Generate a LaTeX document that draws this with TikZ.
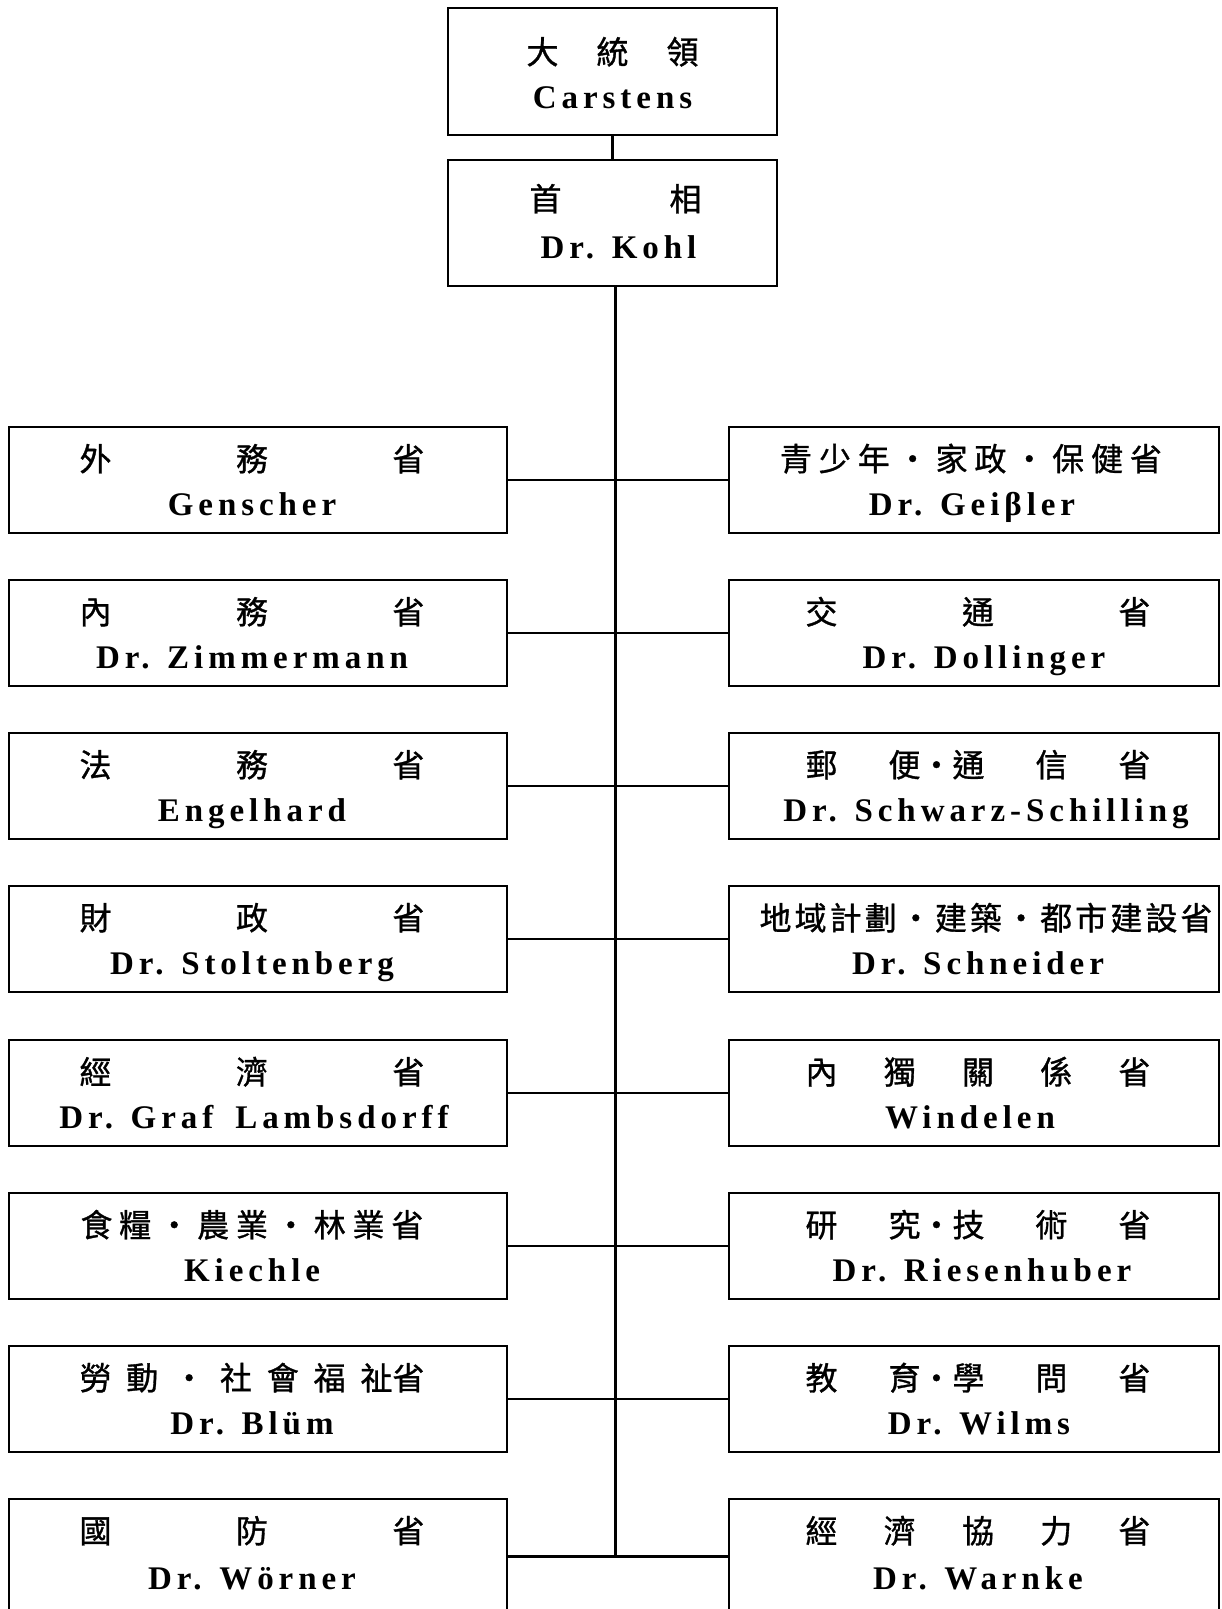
\documentclass[tikz,border=0pt]{standalone}
\usepackage{fontspec}
\setmainfont{Liberation Serif}
\newfontfamily\cjkfont[FakeBold=1]{Noto Sans CJK TC}
\newfontfamily\latfont[LetterSpace=15]{Liberation Serif}
\tikzset{
  x=1pt, y=-1pt,
  box/.style={draw, line width=2.6pt, rectangle, inner sep=0pt},
  lbox/.style={box, minimum width=498pt, minimum height=106pt},
  rbox/.style={box, minimum width=490pt, minimum height=106pt},
  cj/.style={inner sep=0pt, font=\cjkfont\fontsize{32}{36}\selectfont},
  nm/.style={inner sep=0pt, anchor=base, font=\latfont\bfseries\fontsize{33}{40}\selectfont},
  link/.style={line width=2.6pt}
}
\newcommand\spr[2]{\makebox[#1pt]{#2}}
\begin{document}
\begin{tikzpicture}
\useasboundingbox (0,0) rectangle (1222,1609);
\clip (0,0) rectangle (1222,1609);
% top
\node[box, minimum width=329pt, minimum height=127pt] (P) at (612.5,71.5) {};
\node[cj] (Pc) at ([yshift=-45pt]P.north) {\spr{172}{大\hfill 統\hfill 領}};
\node[nm] (Pn) at ([yshift=-102pt]P.north) {Carstens};
\node[box, minimum width=329pt, minimum height=126pt] (K) at (612.5,223) {};
\node[cj] (Kc) at ([xshift=3pt,yshift=-40pt]K.north) {\spr{172}{首\hfill 相}};
\node[nm] (Kn) at ([xshift=6pt,yshift=-100pt]K.north) {Dr. Kohl};
% left column
\node[lbox] (L1) at (258,480) {};
\node[cj] (L1c) at ([xshift=-6pt,yshift=-33pt]L1.north) {\spr{345}{外\hfill 務\hfill 省}};
\node[nm] (L1n) at ([xshift=-6pt,yshift=-90pt]L1.north) {Genscher};
\node[lbox] (L2) at (258,633) {};
\node[cj] (L2c) at ([xshift=-6pt,yshift=-33pt]L2.north) {\spr{345}{內\hfill 務\hfill 省}};
\node[nm] (L2n) at ([xshift=-6pt,yshift=-90pt]L2.north) {Dr. Zimmermann};
\node[lbox] (L3) at (258,786) {};
\node[cj] (L3c) at ([xshift=-6pt,yshift=-33pt]L3.north) {\spr{345}{法\hfill 務\hfill 省}};
\node[nm] (L3n) at ([xshift=-6pt,yshift=-90pt]L3.north) {Engelhard};
\node[lbox] (L4) at (258,939) {};
\node[cj] (L4c) at ([xshift=-6pt,yshift=-33pt]L4.north) {\spr{345}{財\hfill 政\hfill 省}};
\node[nm] (L4n) at ([xshift=-6pt,yshift=-90pt]L4.north) {Dr. Stoltenberg};
\node[lbox] (L5) at (258,1093) {};
\node[cj] (L5c) at ([xshift=-6pt,yshift=-33pt]L5.north) {\spr{345}{經\hfill 濟\hfill 省}};
\node[nm] (L5n) at ([xshift=-4pt,yshift=-90pt]L5.north) {Dr. Graf\hspace{22pt}Lambsdorff};
\node[lbox] (L6) at (258,1246) {};
\node[cj] (L6c) at ([xshift=-6pt,yshift=-33pt]L6.north) {\spr{343}{食\hfill 糧\hfill ・\hfill 農\hfill 業\hfill ・\hfill 林\hfill 業\hfill 省}};
\node[nm] (L6n) at ([xshift=-6pt,yshift=-90pt]L6.north) {Kiechle};
\node[lbox] (L7) at (258,1399) {};
\node[cj] (L7c) at ([xshift=-6pt,yshift=-33pt]L7.north) {\spr{345}{勞\hfill 動\hfill ・\hfill 社\hfill 會\hfill 福\hfill 祉省}};
\node[nm] (L7n) at ([xshift=-6pt,yshift=-90pt]L7.north) {Dr. Blüm};
\node[lbox, minimum height=115pt] (L8) at (258,1556.5) {};
\node[cj] (L8c) at ([xshift=-6pt,yshift=-33pt]L8.north) {\spr{345}{國\hfill 防\hfill 省}};
\node[nm] (L8n) at ([xshift=-6pt,yshift=-92pt]L8.north) {Dr. Wörner};
% right column
\node[rbox] (R1) at (974,480) {};
\node[cj] (R1c) at ([xshift=-3pt,yshift=-33pt]R1.north) {\spr{382}{青\hfill 少\hfill 年\hfill ・\hfill 家\hfill 政\hfill ・\hfill 保\hfill 健\hfill 省}};
\node[nm] (R1n) at ([xshift=-2pt,yshift=-90pt]R1.north) {Dr. Geiβler};
\node[rbox] (R2) at (974,633) {};
\node[cj] (R2c) at ([xshift=4pt,yshift=-33pt]R2.north) {\spr{345}{交\hfill 通\hfill 省}};
\node[nm] (R2n) at ([xshift=10pt,yshift=-90pt]R2.north) {Dr. Dollinger};
\node[rbox] (R3) at (974,786) {};
\node[cj] (R3c) at ([xshift=4pt,yshift=-33pt]R3.north) {\spr{345}{郵\hfill 便・通\hfill 信\hfill 省}};
\node[nm] (R3n) at ([xshift=12pt,yshift=-90pt]R3.north) {Dr. Schwarz-Schilling};
\node[rbox] (R4) at (974,939) {};
\node[cj] (R4c) at ([xshift=12pt,yshift=-33pt]R4.north) {\spr{453}{地\hfill 域\hfill 計\hfill 劃\hfill ・\hfill 建\hfill 築\hfill ・\hfill 都\hfill 市\hfill 建\hfill 設\hfill 省}};
\node[nm] (R4n) at ([xshift=4pt,yshift=-90pt]R4.north) {Dr. Schneider};
\node[rbox] (R5) at (974,1093) {};
\node[cj] (R5c) at ([xshift=4pt,yshift=-33pt]R5.north) {\spr{345}{內\hfill 獨\hfill 關\hfill 係\hfill 省}};
\node[nm] (R5n) at ([xshift=-4pt,yshift=-90pt]R5.north) {Windelen};
\node[rbox] (R6) at (974,1246) {};
\node[cj] (R6c) at ([xshift=4pt,yshift=-33pt]R6.north) {\spr{345}{研\hfill 究・技\hfill 術\hfill 省}};
\node[nm] (R6n) at ([xshift=8pt,yshift=-90pt]R6.north) {Dr. Riesenhuber};
\node[rbox] (R7) at (974,1399) {};
\node[cj] (R7c) at ([xshift=4pt,yshift=-33pt]R7.north) {\spr{345}{教\hfill 育・學\hfill 問\hfill 省}};
\node[nm] (R7n) at ([xshift=5pt,yshift=-90pt]R7.north) {Dr. Wilms};
\node[rbox, minimum height=115pt] (R8) at (974,1556.5) {};
\node[cj] (R8c) at ([xshift=4pt,yshift=-33pt]R8.north) {\spr{345}{經\hfill 濟\hfill 協\hfill 力\hfill 省}};
\node[nm] (R8n) at ([xshift=4pt,yshift=-92pt]R8.north) {Dr. Warnke};
% connectors
\draw[link] (P.south) -- (K.north);
\draw[link] ([xshift=3pt]K.south) -- ([xshift=3pt]K.south |- L8.east);
\foreach \i in {1,...,8} { \draw[link] (L\i.east) -- (R\i.west); }
\end{tikzpicture}
\end{document}
